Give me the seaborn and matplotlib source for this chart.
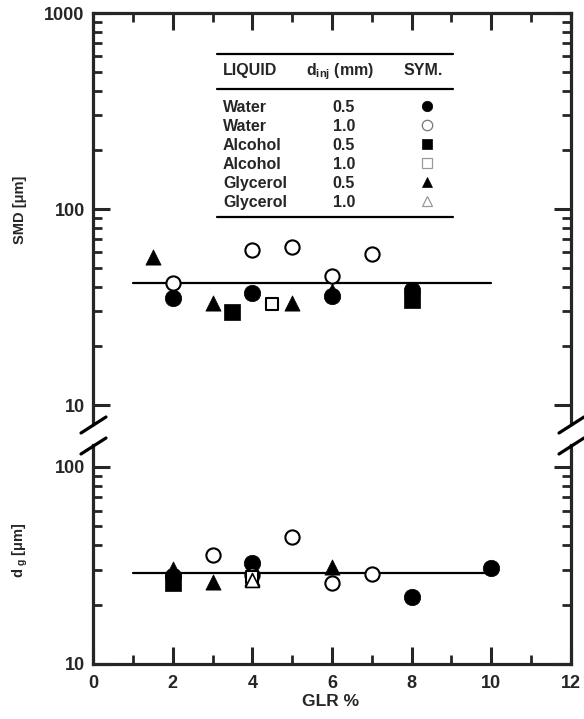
import matplotlib
matplotlib.use("Agg")
import matplotlib.pyplot as plt
import seaborn as sns
import numpy as np
from matplotlib.lines import Line2D
from matplotlib.ticker import FixedLocator, FixedFormatter, NullFormatter

# ---------------- data ----------------
# SMD panel (top)
smd_water05_x = [2, 4, 6, 8]
smd_water05_y = [35.3, 37.4, 36.1, 38.8]
smd_water10_x = [2, 4, 5, 6, 7]
smd_water10_y = [42.0, 62.0, 64.3, 45.7, 59.2]
smd_alcohol05_x = [3.5, 8]
smd_alcohol05_y = [29.9, 34.4]
smd_alcohol10_x = [4.5]
smd_alcohol10_y = [32.9]
smd_glycerol05_x = [1.5, 3, 5, 6]
smd_glycerol05_y = [57.0, 33.0, 33.0, 38.0]
smd_fit_x = [1, 10]
smd_fit_y = [42.1, 42.1]

# d_g panel (bottom)
dg_water05_x = [2, 4, 8, 10]
dg_water05_y = [28.0, 32.6, 21.9, 30.7]
dg_water10_x = [3, 4, 5, 6, 7]
dg_water10_y = [35.8, 28.3, 44.1, 25.8, 28.6]
dg_alcohol05_x = [2]
dg_alcohol05_y = [25.6]
dg_alcohol10_x = [4]
dg_alcohol10_y = [27.5]
dg_glycerol05_x = [2, 3, 4, 6]
dg_glycerol05_y = [30.3, 26.1, 27.3, 31.1]
dg_glycerol10_x = [4]
dg_glycerol10_y = [26.8]
dg_fit_x = [1, 10]
dg_fit_y = [29.0, 29.0]

x_ticks = [0, 2, 4, 6, 8, 10, 12]
x_ticklabels = ["0", "2", "4", "6", "8", "10", "12"]
smd_yticks = [10, 100, 1000]
smd_yticklabels = ["10", "100", "1000"]
dg_yticks = [10, 100]
dg_yticklabels = ["10", "100"]

legend_liquid = ["Water", "Water", "Alcohol", "Alcohol", "Glycerol", "Glycerol"]
legend_dinj = ["0.5", "1.0", "0.5", "1.0", "0.5", "1.0"]

# ---------------- style ----------------
sns.set_style("ticks")
plt.rcParams["font.family"] = ["Liberation Sans", "DejaVu Sans"]
plt.rcParams["font.weight"] = "bold"
plt.rcParams["mathtext.fontset"] = "custom"
plt.rcParams["mathtext.rm"] = "Liberation Sans:bold"
plt.rcParams["mathtext.it"] = "Liberation Sans:bold"
plt.rcParams["mathtext.bf"] = "Liberation Sans:bold"

W, H = 584, 719
fig = plt.figure(figsize=(W / 100, H / 100), dpi=100)

def fx(px):
    return px / W

def fy(py):
    return 1 - py / H

left, right = 93, 571
ax_top = fig.add_axes([fx(left), fy(424), fx(right) - fx(left), fy(13) - fy(424)])
ax_bot = fig.add_axes([fx(left), fy(664), fx(right) - fx(left), fy(445) - fy(664)])

styles = {
    "w05": dict(marker="o", s=140, facecolor="black", edgecolor="black", linewidth=0.5),
    "w10": dict(marker="o", s=105, facecolor="white", edgecolor="black", linewidth=1.5),
    "a05": dict(marker="s", s=120, facecolor="black", edgecolor="black", linewidth=0.5),
    "a10": dict(marker="s", s=80, facecolor="white", edgecolor="black", linewidth=1.5),
    "g05": dict(marker="^", s=120, facecolor="black", edgecolor="black", linewidth=0.5),
    "g10": dict(marker="^", s=100, facecolor="white", edgecolor="black", linewidth=1.2),
}

def draw(ax, x, y, key):
    sns.scatterplot(x=x, y=y, ax=ax, zorder=3, clip_on=False, **styles[key])

# top panel
sns.lineplot(x=smd_fit_x, y=smd_fit_y, ax=ax_top, color="black", lw=1.6, zorder=2)
draw(ax_top, smd_glycerol05_x, smd_glycerol05_y, "g05")
draw(ax_top, smd_water05_x, smd_water05_y, "w05")
draw(ax_top, smd_alcohol05_x, smd_alcohol05_y, "a05")
draw(ax_top, smd_water10_x, smd_water10_y, "w10")
draw(ax_top, smd_alcohol10_x, smd_alcohol10_y, "a10")

# bottom panel
sns.lineplot(x=dg_fit_x, y=dg_fit_y, ax=ax_bot, color="black", lw=1.6, zorder=2)
draw(ax_bot, dg_water05_x, dg_water05_y, "w05")
draw(ax_bot, dg_alcohol05_x, dg_alcohol05_y, "a05")
draw(ax_bot, dg_glycerol05_x, dg_glycerol05_y, "g05")
draw(ax_bot, dg_water10_x, dg_water10_y, "w10")
draw(ax_bot, dg_alcohol10_x, dg_alcohol10_y, "a10")
draw(ax_bot, dg_glycerol10_x, dg_glycerol10_y, "g10")

for ax in (ax_top, ax_bot):
    ax.set_yscale("log")
    ax.set_xlim(0, 12)
    ax.xaxis.set_major_locator(FixedLocator(x_ticks))
    ax.xaxis.set_minor_locator(FixedLocator([1, 3, 5, 7, 9, 11]))
    for sp in ax.spines.values():
        sp.set_linewidth(2.3)
    ax.tick_params(which="major", direction="in", length=12, width=2.2,
                   labelsize=13, pad=6)
    ax.tick_params(which="minor", direction="in", length=6.5, width=2.0)
    ax.set_xlabel("")
    ax.set_ylabel("")

ax_top.set_ylim(8.0, 1000)
ax_top.yaxis.set_major_locator(FixedLocator(smd_yticks))
ax_top.yaxis.set_major_formatter(FixedFormatter(smd_yticklabels))
ax_top.yaxis.set_minor_locator(FixedLocator([v * d for d in (10, 100) for v in range(2, 10)]))
ax_top.yaxis.set_minor_formatter(NullFormatter())
ax_top.spines["bottom"].set_visible(False)
ax_top.tick_params(which="both", top=True, bottom=False, left=True, right=True,
                   labelbottom=False, labeltop=False)

ax_bot.set_ylim(10, 129)
ax_bot.yaxis.set_major_locator(FixedLocator(dg_yticks))
ax_bot.yaxis.set_major_formatter(FixedFormatter(dg_yticklabels))
ax_bot.yaxis.set_minor_locator(FixedLocator([v * 10 for v in range(2, 10)]))
ax_bot.yaxis.set_minor_formatter(NullFormatter())
ax_bot.spines["top"].set_visible(False)
ax_bot.xaxis.set_major_formatter(FixedFormatter(x_ticklabels))
ax_bot.tick_params(which="both", top=False, bottom=True, left=True, right=True)
ax_bot.tick_params(axis="x", pad=8)
for lab in ax_top.get_yticklabels() + ax_bot.get_yticklabels() + ax_bot.get_xticklabels():
    lab.set_fontweight("bold")

# axis labels
fig.text(fx(20), fy(210), "SMD [μm]", rotation=90, ha="center", va="center",
         fontsize=10.5, fontweight="bold")
fig.text(fx(20), fy(550), r"d$_{\ g}$ [μm]", rotation=90, ha="center", va="center",
         fontsize=10.5, fontweight="bold")
fig.text(fx(331), fy(701), "GLR %", ha="center", va="center", fontsize=12.5,
         fontweight="bold")

# axis break marks
for xc in (left, right):
    for yc in (425, 446):
        fig.add_artist(Line2D([fx(xc - 12), fx(xc + 13)], [fy(yc + 8), fy(yc - 8)],
                              transform=fig.transFigure, color="black", lw=2.3))

# legend table
for yl in (54, 89, 217):
    fig.add_artist(Line2D([fx(217), fx(453)], [fy(yl), fy(yl)],
                          transform=fig.transFigure, color="black", lw=1.6))
hdr_base = 75
fig.text(fx(223), fy(hdr_base), "LIQUID", ha="left", va="baseline", fontsize=11.5,
         fontweight="bold")
fig.text(fx(306), fy(hdr_base), r"d$_{inj}$ (mm)", ha="left", va="baseline", fontsize=11.5,
         fontweight="bold")
fig.text(fx(404), fy(hdr_base), "SYM.", ha="left", va="baseline", fontsize=11.5,
         fontweight="bold")
row_y = [106, 125, 144, 163, 182, 201]
leg_sym = [
    dict(marker="o", ms=7.5, mfc="black", mec="black", mew=0.5),
    dict(marker="o", ms=7.5, mfc="white", mec="#777777", mew=0.9),
    dict(marker="s", ms=7, mfc="black", mec="black", mew=0.5),
    dict(marker="s", ms=7, mfc="white", mec="#999999", mew=0.9),
    dict(marker="^", ms=7, mfc="black", mec="black", mew=0.5),
    dict(marker="^", ms=7, mfc="white", mec="#999999", mew=0.9),
]
for yr, liq, dv, sym in zip(row_y, legend_liquid, legend_dinj, leg_sym):
    fig.text(fx(223), fy(yr + 5.8), liq, ha="left", va="baseline", fontsize=11.5,
             fontweight="bold")
    fig.text(fx(344), fy(yr + 5.8), dv, ha="center", va="baseline", fontsize=11.5,
             fontweight="bold")
    fig.add_artist(Line2D([fx(427)], [fy(yr)], transform=fig.transFigure, ls="none", **sym))

fig.savefig("out.png", dpi=100)
